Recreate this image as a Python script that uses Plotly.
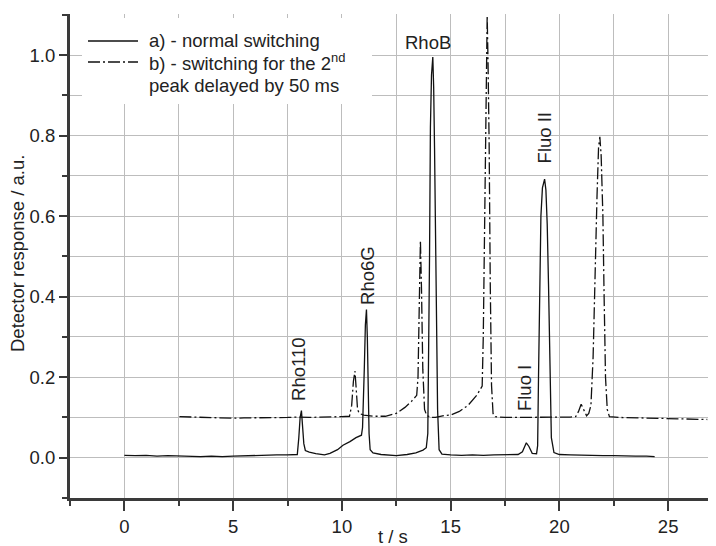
import plotly.graph_objects as go

# Series a) normal switching (solid)
a_t = [0, 0.5, 1, 1.5, 2, 2.5, 3, 3.5, 4, 4.5, 5, 5.5, 6, 6.5, 7, 7.5, 7.95,
       8.02, 8.08, 8.14, 8.2, 8.25, 8.32, 8.5, 8.8, 9.2, 9.45, 9.8, 10.05, 10.37,
       10.65, 10.9, 10.95, 10.99, 11.03, 11.08, 11.13, 11.17, 11.21, 11.25, 11.3,
       11.43, 11.8, 12.2, 12.5, 13.0, 13.4, 13.73, 13.88, 13.95, 14.0, 14.03,
       14.07, 14.12, 14.18, 14.22, 14.26, 14.33, 14.4, 14.47, 14.6, 15.0, 15.5,
       16.0, 16.5, 17.0, 17.5, 18.1, 18.3, 18.48, 18.6, 18.75, 18.95, 19.0, 19.04,
       19.09, 19.15, 19.22, 19.32, 19.38, 19.44, 19.5, 19.56, 19.63, 19.75, 20.0,
       20.5, 21.0, 21.5, 22.0, 22.5, 23.0, 23.5, 24.0, 24.38]
a_y = [0.006, 0.005, 0.006, 0.004, 0.005, 0.004, 0.004, 0.003, 0.004, 0.003,
       0.004, 0.005, 0.006, 0.006, 0.007, 0.007, 0.008,
       0.05, 0.1, 0.117, 0.08, 0.035, 0.018, 0.014, 0.01, 0.007, 0.011, 0.02,
       0.031, 0.04, 0.05, 0.056, 0.075, 0.13, 0.22, 0.33, 0.368, 0.3, 0.17, 0.06,
       0.02, 0.012, 0.008, 0.006, 0.005, 0.008, 0.012, 0.019, 0.025, 0.06, 0.3,
       0.5, 0.82, 0.95, 0.995, 0.92, 0.77, 0.44, 0.12, 0.02, 0.009, 0.007, 0.006,
       0.007, 0.006, 0.007, 0.007, 0.008, 0.015, 0.037, 0.028, 0.011, 0.01, 0.03,
       0.2, 0.46, 0.6, 0.67, 0.692, 0.665, 0.58, 0.43, 0.2, 0.05, 0.013, 0.008,
       0.007, 0.006, 0.006, 0.005, 0.005, 0.004, 0.004, 0.004, 0.003]

# Series b) switching for the 2nd peak delayed by 50 ms (dash-dot)
b_t = [2.53, 3.0, 3.5, 4.0, 4.5, 5.0, 5.5, 6.0, 6.5, 7.0, 7.5, 8.0, 8.5, 9.0,
       9.5, 10.0, 10.35, 10.45, 10.53, 10.6, 10.66, 10.72, 10.8, 11.0, 11.5,
       12.0, 12.5, 12.9, 13.2, 13.44, 13.5, 13.55, 13.61, 13.66, 13.72, 13.8,
       13.9, 14.1, 14.3, 14.7, 15.0, 15.4, 15.8, 16.2, 16.45, 16.5, 16.55, 16.6,
       16.65, 16.68, 16.72, 16.77, 16.82, 16.88, 16.95, 17.05, 17.5, 18.0, 18.5,
       19.0, 19.5, 20.0, 20.5, 20.75, 20.88, 21.0, 21.1, 21.25, 21.35, 21.45,
       21.55, 21.64, 21.73, 21.8, 21.86, 21.92, 22.0, 22.05, 22.12, 22.2, 22.3,
       22.8, 23.5, 24.0, 24.5, 25.0, 25.5, 26.0, 26.8]
b_y = [0.102, 0.101, 0.1, 0.099, 0.099, 0.098, 0.099, 0.099, 0.1, 0.1, 0.1,
       0.101, 0.1, 0.101, 0.101, 0.102, 0.103, 0.13, 0.19, 0.215, 0.17, 0.12,
       0.11, 0.106, 0.103, 0.103, 0.11, 0.125, 0.14, 0.155, 0.2, 0.4, 0.54, 0.42,
       0.22, 0.12, 0.105, 0.1, 0.1, 0.105, 0.106, 0.115, 0.13, 0.155, 0.178, 0.3,
       0.55, 0.85, 1.05, 1.098, 0.98, 0.78, 0.44, 0.18, 0.11, 0.102, 0.1, 0.1,
       0.1, 0.1, 0.1, 0.101, 0.101, 0.102, 0.115, 0.133, 0.12, 0.104, 0.11, 0.13,
       0.25, 0.47, 0.65, 0.77, 0.797, 0.75, 0.6, 0.42, 0.2, 0.12, 0.102, 0.1,
       0.099, 0.099, 0.098, 0.098, 0.097, 0.096, 0.095]

# Peak labels
peak_names = ["Rho110", "Rho6G", "RhoB", "Fluo I", "Fluo II"]
peak_x = [7.97, 11.2, 13.96, 18.39, 19.31]
peak_y = [0.22, 0.454, 1.031, 0.174, 0.794]
peak_angle = [-90, -90, 0, -90, -90]

x_major = [0, 5, 10, 15, 20, 25]
y_major = [0.0, 0.2, 0.4, 0.6, 0.8, 1.0]
y_labels = ["0.0", "0.2", "0.4", "0.6", "0.8", "1.0"]

legend_a = "a) - normal switching"
legend_b1 = "b) - switching for the 2<sup>nd</sup>"
legend_b2 = "peak delayed by 50 ms"

FONT = "Liberation Sans, Arial, sans-serif"
DASHDOT = "12px,3px,2px,3px"
TXT = "#222222"
GRID = "#bdbdbd"

fig = go.Figure()
fig.add_trace(go.Scatter(x=a_t, y=a_y, mode="lines",
                         line=dict(color="#111111", width=1.3), showlegend=False))
fig.add_trace(go.Scatter(x=b_t, y=b_y, mode="lines",
                         line=dict(color="#111111", width=1.3, dash=DASHDOT),
                         showlegend=False))

for name, px_, py_, ang in zip(peak_names, peak_x, peak_y, peak_angle):
    fig.add_annotation(x=px_, y=py_, text=name, textangle=ang, showarrow=False,
                       font=dict(size=18.5, color=TXT, family=FONT),
                       xanchor="center", yanchor="middle")

# custom legend box; page pixels -> paper coordinates
# (page has the browser's default 8px body margin, figure is 708x538)
def px2x(p):
    return (p - 70) / 646.0

def py2y(p):
    return (498 - p) / 484.0

fig.add_shape(type="rect", xref="paper", yref="paper",
              x0=px2x(82), x1=px2x(372), y0=py2y(104), y1=py2y(18),
              fillcolor="white", line=dict(width=0), layer="above")
fig.add_shape(type="line", xref="paper", yref="paper",
              x0=px2x(88), x1=px2x(138), y0=py2y(41), y1=py2y(41),
              line=dict(color="#111111", width=1.3), layer="above")
fig.add_shape(type="line", xref="paper", yref="paper",
              x0=px2x(88), x1=px2x(138), y0=py2y(62), y1=py2y(62),
              line=dict(color="#111111", width=1.3, dash=DASHDOT), layer="above")
for txt, yy in [(legend_a, 41), (legend_b1, 62), (legend_b2, 86)]:
    fig.add_annotation(xref="paper", yref="paper", x=px2x(147), y=py2y(yy),
                       text=txt, showarrow=False, xanchor="left", yanchor="middle",
                       font=dict(size=18.5, color=TXT, family=FONT))

# axis titles
fig.add_annotation(xref="paper", yref="paper", x=px2x(17), y=py2y(254),
                   text="Detector response / a.u.", textangle=-90, showarrow=False,
                   xanchor="center", yanchor="middle",
                   font=dict(size=18.5, color=TXT, family=FONT))
fig.add_annotation(xref="paper", yref="paper", x=px2x(393), y=py2y(536),
                   text="t / s", showarrow=False, xanchor="center", yanchor="middle",
                   font=dict(size=18.5, color=TXT, family=FONT))

axis_common = dict(
    showline=True, linecolor="#3a3a3a", linewidth=3,
    showgrid=True, gridcolor=GRID, gridwidth=1.2,
    ticks="outside", tickcolor="#3a3a3a", tickwidth=2,
    zeroline=False, automargin=False,
    tickfont=dict(size=18.5, color=TXT, family=FONT),
)

fig.update_xaxes(
    **axis_common,
    range=[-2.5, 27.2],
    tickmode="array", tickvals=x_major, ticktext=[str(v) for v in x_major],
    ticklen=10,
    minor=dict(dtick=2.5, tick0=0, ticks="outside", ticklen=5, tickwidth=2,
               tickcolor="#3a3a3a", showgrid=True, gridcolor=GRID, gridwidth=1.2),
)
fig.update_yaxes(
    **axis_common,
    range=[-0.1, 1.102],
    tickmode="array", tickvals=y_major, ticktext=y_labels,
    ticklen=8,
    minor=dict(dtick=0.1, tick0=0, ticks="outside", ticklen=5, tickwidth=2,
               tickcolor="#3a3a3a", showgrid=True, gridcolor=GRID, gridwidth=1.2),
)

fig.update_layout(
    width=708, height=538,
    margin=dict(l=62, r=0, t=6, b=48),
    plot_bgcolor="white", paper_bgcolor="white",
    font=dict(family=FONT, size=18, color=TXT),
    showlegend=False,
)

fig.write_html("out.html", config={"displayModeBar": False})
